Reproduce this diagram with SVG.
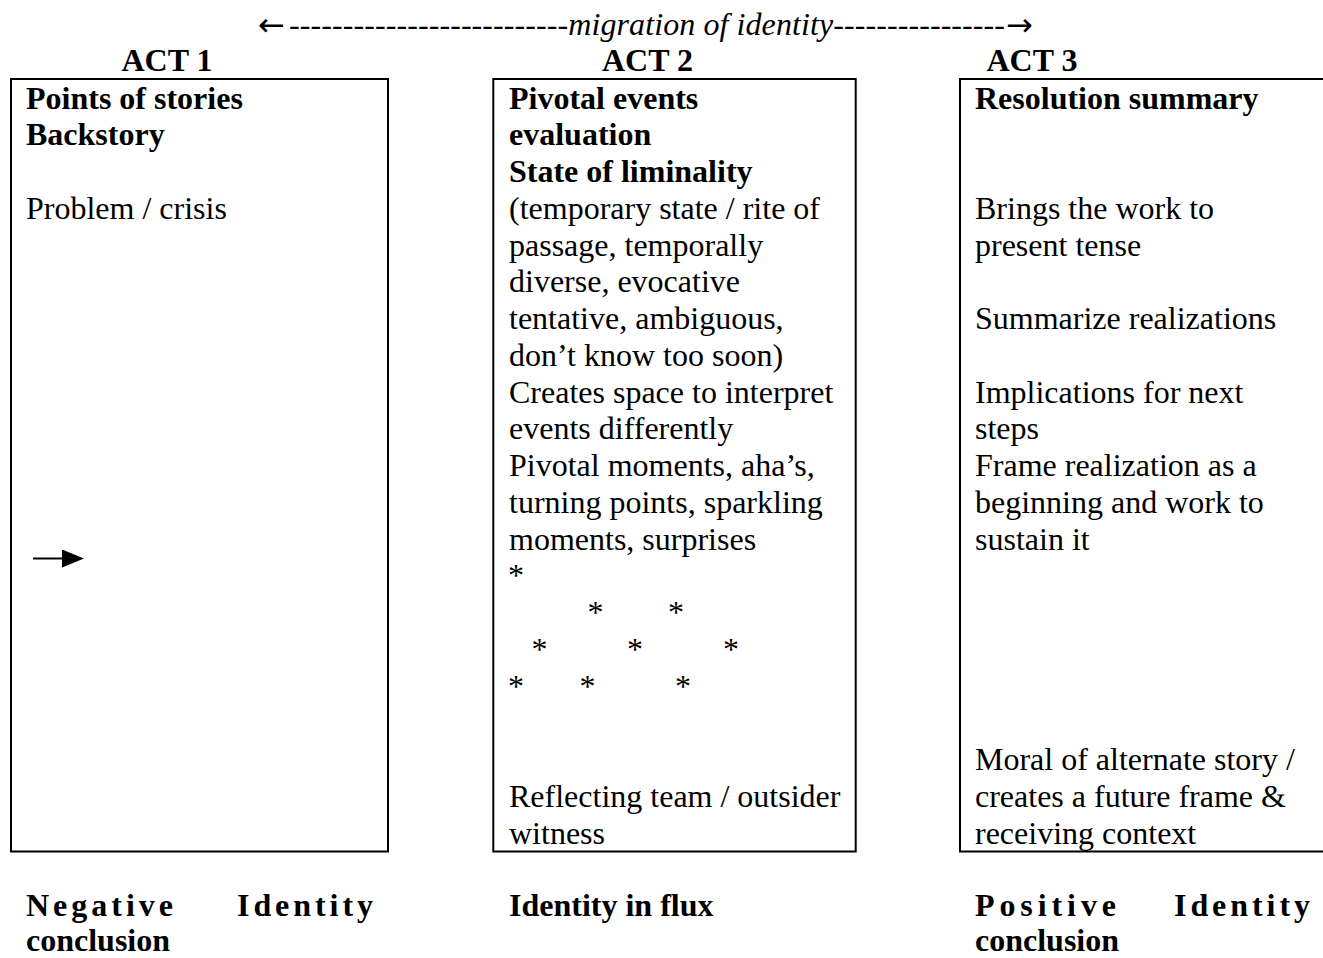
<svg xmlns="http://www.w3.org/2000/svg" width="1323" height="958" viewBox="0 0 1323 958">
<style>
text { font-family: "Liberation Serif", "Times New Roman", serif; font-size: 32px; fill: #000; }
.b { font-weight: bold; }
.i { font-style: italic; }
.arr { font-family: "DejaVu Sans", sans-serif; font-size: 32px; }
.box { fill: none; stroke: #000; stroke-width: 2; }
.hd { font-weight: bold; text-anchor: middle; }
.ast { text-anchor: middle; }
</style>
<defs>
<marker id="tri" viewBox="0 0 22 18" markerWidth="22" markerHeight="18" refX="0" refY="9" orient="auto" markerUnits="userSpaceOnUse">
<path d="M0,0 L22,9 L0,18 Z" fill="#000"/>
</marker>
</defs>

<g id="title">
<text class="arr" x="258" y="36">←</text>
<text class="i" x="289" y="35" textLength="716" lengthAdjust="spacing">--------------------------migration of identity----------------</text>
<text class="arr" x="1006" y="36">→</text>
</g>

<g id="act1">
<text class="hd" x="167" y="71">ACT 1</text>
<rect class="box" x="11" y="79" width="377" height="772.5"/>
<text class="b" x="26" y="108.5">Points of stories</text>
<text class="b" x="26" y="145.3">Backstory</text>
<text x="26" y="218.8">Problem / crisis</text>
<text class="b" x="26" y="916" textLength="147" lengthAdjust="spacing">Negative</text>
<text class="b" x="237" y="916" textLength="136" lengthAdjust="spacing">Identity</text>
<text class="b" x="26" y="951">conclusion</text>
</g>

<g id="act2">
<text class="hd" x="647.5" y="71">ACT 2</text>
<rect class="box" x="493.3" y="79" width="362.4" height="772.5"/>
<text class="b" x="509" y="108.5">Pivotal events</text>
<text class="b" x="509" y="145.3">evaluation</text>
<text class="b" x="509" y="182">State of liminality</text>
<text x="509" y="218.8">(temporary state / rite of</text>
<text x="509" y="255.5">passage, temporally</text>
<text x="509" y="292.3">diverse, evocative</text>
<text x="509" y="329">tentative, ambiguous,</text>
<text x="509" y="365.8">don’t know too soon)</text>
<text x="509" y="402.5">Creates space to interpret</text>
<text x="509" y="439.3">events differently</text>
<text x="509" y="476">Pivotal moments, aha’s,</text>
<text x="509" y="512.8">turning points, sparkling</text>
<text x="509" y="549.5">moments, surprises</text>
<text class="ast" x="516" y="586.3">*</text>
<text class="ast" x="595.5" y="623">*</text>
<text class="ast" x="676" y="623">*</text>
<text class="ast" x="539.5" y="659.8">*</text>
<text class="ast" x="635" y="659.8">*</text>
<text class="ast" x="731" y="659.8">*</text>
<text class="ast" x="516" y="696.5">*</text>
<text class="ast" x="587.5" y="696.5">*</text>
<text class="ast" x="683" y="696.5">*</text>
<text x="509" y="807">Reflecting team / outsider</text>
<text x="509" y="843.8">witness</text>
<text class="b" x="509" y="916">Identity in flux</text>
</g>

<g id="act3">
<text class="hd" x="1032" y="71">ACT 3</text>
<path class="box" d="M1323,79 H960 V851.5 H1323"/>
<text class="b" x="975" y="108.5">Resolution summary</text>
<text x="975" y="218.8">Brings the work to</text>
<text x="975" y="255.5">present tense</text>
<text x="975" y="329">Summarize realizations</text>
<text x="975" y="402.5">Implications for next</text>
<text x="975" y="439.3">steps</text>
<text x="975" y="476">Frame realization as a</text>
<text x="975" y="512.8">beginning and work to</text>
<text x="975" y="549.5">sustain it</text>
<text x="975" y="770.3">Moral of alternate story /</text>
<text x="975" y="807">creates a future frame &amp;</text>
<text x="975" y="843.8">receiving context</text>
<text class="b" x="975" y="916" textLength="141" lengthAdjust="spacing">Positive</text>
<text class="b" x="1174" y="916" textLength="136" lengthAdjust="spacing">Identity</text>
<text class="b" x="975" y="951">conclusion</text>
</g>

<g id="connectors">
<line x1="33" y1="558.5" x2="62" y2="558.5" stroke="#000" stroke-width="2" marker-end="url(#tri)"/>
</g>
</svg>
